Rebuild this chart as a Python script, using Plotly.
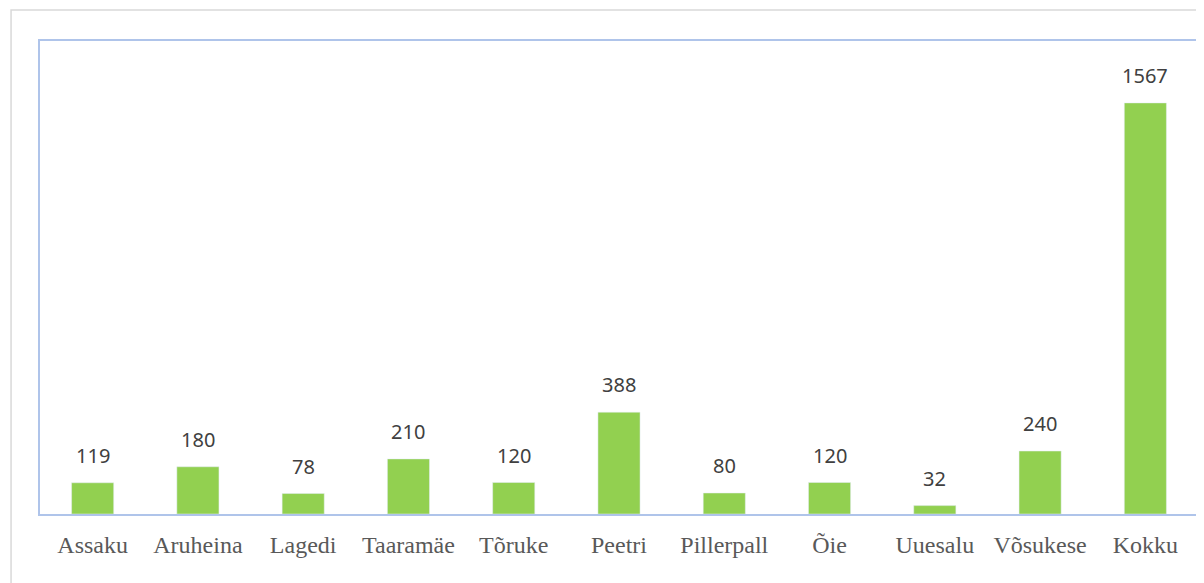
import plotly.graph_objects as go

# Counts per village, last bar is the total ("Kokku").
villages = ["Assaku", "Aruheina", "Lagedi", "Taaramäe", "Tõruke", "Peetri",
            "Pillerpall", "Õie", "Uuesalu", "Võsukese", "Kokku"]
counts = [119, 180, 78, 210, 120, 388, 80, 120, 32, 240, 1567]

fig = go.Figure()
fig.add_trace(
    go.Bar(
        x=villages,
        y=counts,
        marker=dict(color="#92D050"),
        hoverinfo="x+y",
    )
)

# value labels floating above each bar
for v, c in zip(villages, counts):
    fig.add_annotation(
        x=v, y=c, text=str(c), showarrow=False,
        yanchor="bottom", yshift=12,
        font=dict(family="Noto Sans", size=20, color="#404040"),
    )

# light grey chart frame, partly cut off like the original
fig.add_shape(
    type="rect", xref="paper", yref="paper",
    x0=-0.025, x1=1.2, y0=-0.3, y1=1.0655,
    line=dict(color="#D9D9D9", width=1.5), layer="below",
)

# page body adds an 8px margin, so the figure is sized to fit after it
fig.update_layout(
    width=1196,
    height=575,
    margin=dict(l=32, r=4, t=33, b=69),
    paper_bgcolor="white",
    plot_bgcolor="white",
    bargap=0.6,
    showlegend=False,
    xaxis=dict(
        showline=True, mirror=True, linecolor="#AFC4EA", linewidth=2,
        ticks="", ticklabelstandoff=8,
        tickfont=dict(family="Liberation Serif", size=24, color="#595959"),
    ),
    yaxis=dict(
        range=[0, 1803],
        showline=True, mirror=True, linecolor="#AFC4EA", linewidth=2,
        showgrid=False, zeroline=False, showticklabels=False, ticks="",
    ),
)

fig.write_html("out.html")
